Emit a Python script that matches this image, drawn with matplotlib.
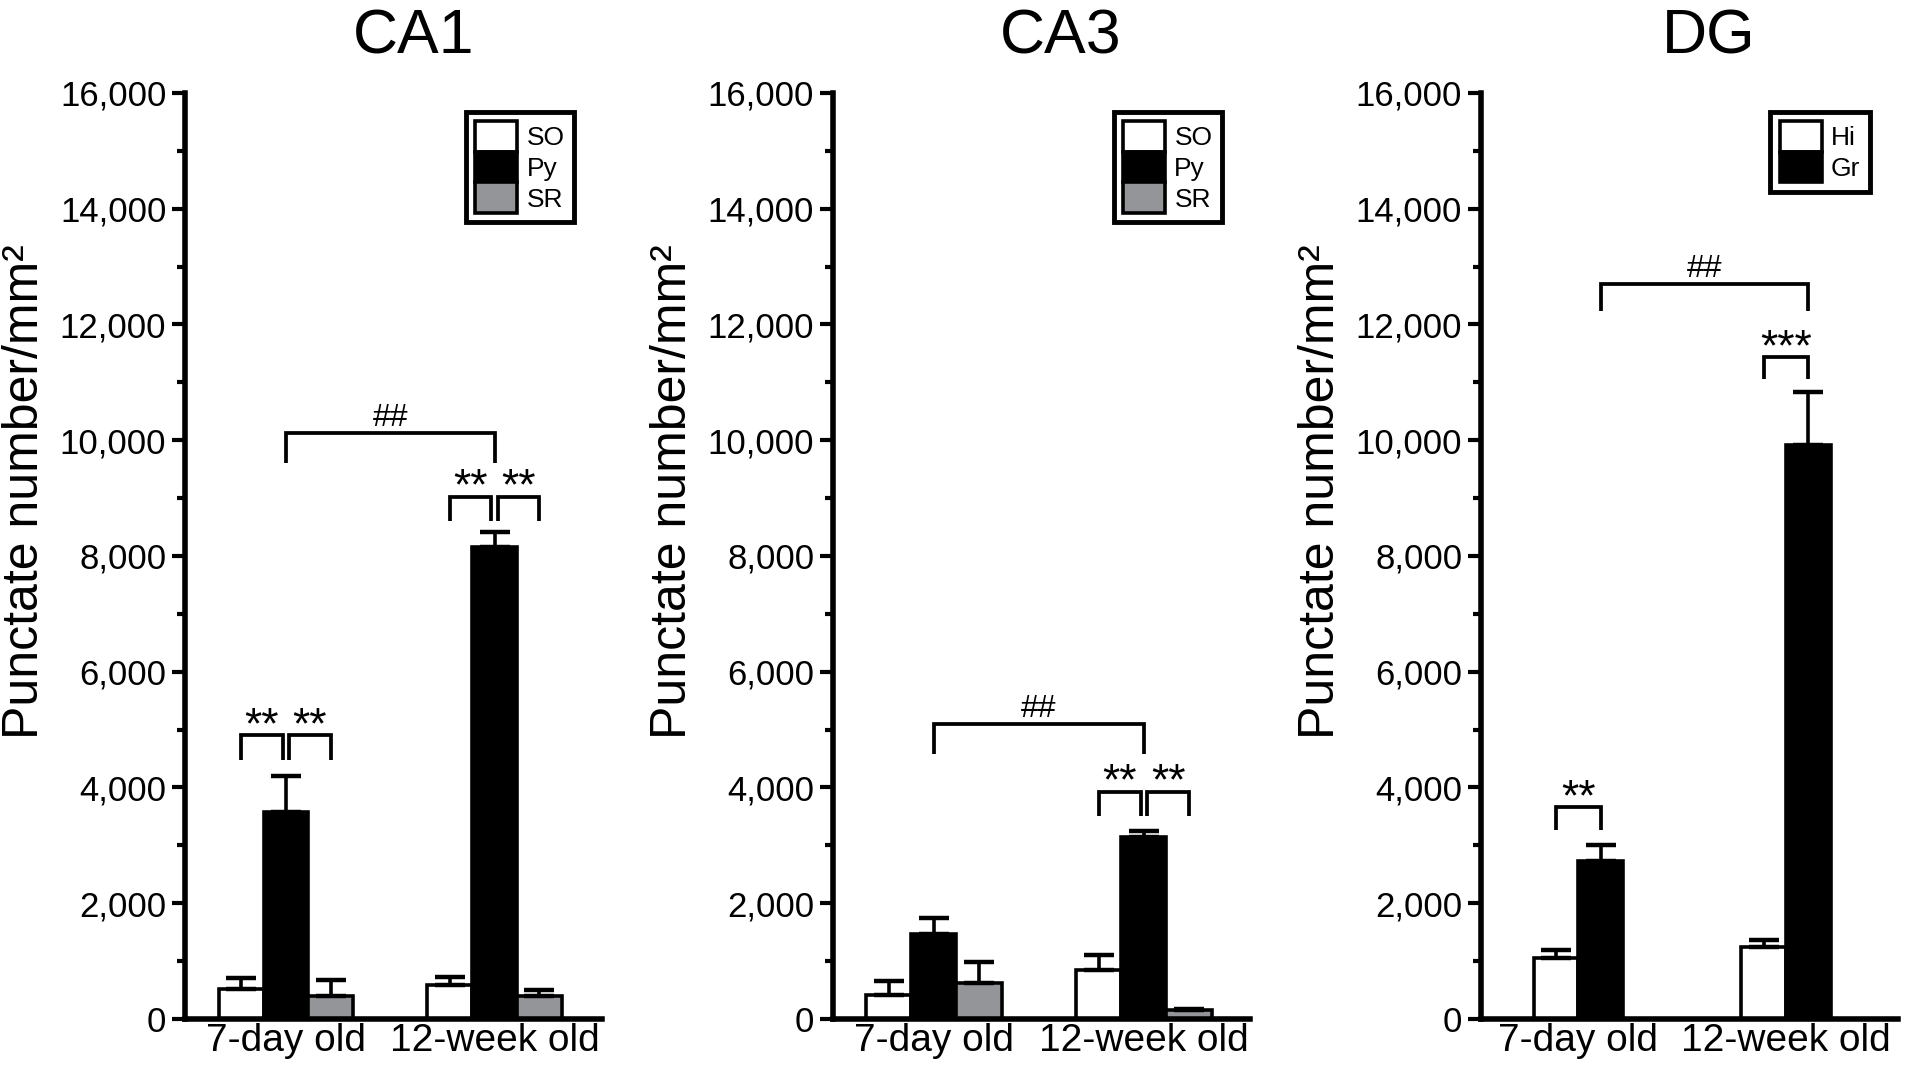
import numpy as np
import matplotlib.pyplot as plt
from matplotlib.patches import Patch
from matplotlib.ticker import MultipleLocator, StrMethodFormatter

plt.rcParams['font.family'] = 'Liberation Sans'

groups = ['7-day old', '12-week old']

# CA1
ca1_layers = ['SO', 'Py', 'SR']
ca1_means = [[510, 590], [3580, 8150], [400, 400]]
ca1_errs = [[200, 130], [620, 260], [270, 100]]

# CA3
ca3_layers = ['SO', 'Py', 'SR']
ca3_means = [[410, 850], [1460, 3140], [620, 150]]
ca3_errs = [[250, 250], [280, 100], [370, 30]]

# DG
dg_layers = ['Hi', 'Gr']
dg_means = [[1060, 1240], [2730, 9910]]
dg_errs = [[130, 120], [270, 920]]

# significance brackets: (group, layer), (group, layer), leg bottom, top, label
ca1_sig = [((0, 0), (0, 1), 4480, 4900, '**'), ((0, 1), (0, 2), 4480, 4900, '**'),
           ((1, 0), (1, 1), 8600, 9020, '**'), ((1, 1), (1, 2), 8600, 9020, '**'),
           ((0, 1), (1, 1), 9610, 10120, '##')]
ca3_sig = [((1, 0), (1, 1), 3510, 3930, '**'), ((1, 1), (1, 2), 3510, 3930, '**'),
           ((0, 1), (1, 1), 4585, 5090, '##')]
dg_sig = [((0, 0), (0, 1), 3270, 3660, '**'), ((1, 0), (1, 1), 11050, 11430, '***'),
          ((0, 1), (1, 1), 12230, 12700, '##')]

colors = {'SO': 'white', 'Py': 'black', 'SR': '#939598', 'Hi': 'white', 'Gr': 'black'}

W = 0.215


def bar_x(n, g, s):
    return g + (s - (n - 1) / 2) * W


def panel(ax, title, layers, means, errs, sig, xlim):
    n = len(layers)
    x = np.arange(len(groups))
    for s, lay in enumerate(layers):
        xs = x + (s - (n - 1) / 2) * W
        ax.bar(xs, means[s], W, color=colors[lay], edgecolor='black', linewidth=2.6, zorder=2)
        ax.errorbar(xs, means[s], yerr=[np.zeros(len(groups)), errs[s]], fmt='none',
                    ecolor='black', elinewidth=2.6, capsize=10.8, capthick=3.2, zorder=3)

    for (g1, s1), (g2, s2), yb, yt, lab in sig:
        x1 = bar_x(n, g1, s1)
        x2 = bar_x(n, g2, s2)
        if g1 == g2 and n == 3:
            if s1 == 1:
                x1 += 0.015
            if s2 == 1:
                x2 -= 0.015
        ax.plot([x1, x1, x2, x2], [yb, yt, yt, yb], color='black', lw=2.7,
                solid_joinstyle='miter', solid_capstyle='butt', zorder=4)
        if '*' in lab:
            ax.annotate(lab, xy=((x1 + x2) / 2, yt), xytext=(0, -2), textcoords='offset points',
                        ha='center', va='baseline', fontsize=32)
        else:
            ax.annotate(lab, xy=((x1 + x2) / 2, yt), xytext=(0, 5), textcoords='offset points',
                        ha='center', va='baseline', fontsize=23)

    ax.set_xlim(*xlim)
    ax.set_ylim(0, 16000)
    ax.set_xticks(x)
    ax.set_xticklabels(groups)
    ax.yaxis.set_major_locator(MultipleLocator(2000))
    ax.yaxis.set_minor_locator(MultipleLocator(1000))
    ax.yaxis.set_major_formatter(StrMethodFormatter('{x:,.0f}'))
    ax.tick_params(axis='y', which='major', length=9.5, width=3, labelsize=25, pad=4)
    ax.tick_params(axis='y', which='minor', length=6, width=3)
    ax.tick_params(axis='x', length=0, labelsize=28, pad=3)
    for side in ['top', 'right']:
        ax.spines[side].set_visible(False)
    for side in ['left', 'bottom']:
        ax.spines[side].set_linewidth(4)
        ax.spines[side].set_capstyle('projecting')

    ax.text(0.547, 1.0425, title, transform=ax.transAxes, ha='center', va='baseline', fontsize=45)
    ax.text(-0.384, 0.57, 'Punctate number/mm²', transform=ax.transAxes, rotation=90,
            ha='center', va='center', fontsize=36)

    handles = [Patch(facecolor=colors[l], edgecolor='black', linewidth=2.6) for l in layers]
    leg = ax.legend(handles, layers, loc='upper right', bbox_to_anchor=(0.932, 0.98),
                    borderaxespad=0, fontsize=19, handlelength=1.6, handleheight=1.42,
                    labelspacing=0, handletextpad=0.35, borderpad=0.35,
                    fancybox=False, edgecolor='black', framealpha=1)
    leg.get_frame().set_linewidth(3.5)


fig = plt.figure(figsize=(19.06, 10.75), dpi=100)
ax1 = fig.add_axes([0.0971, 0.0521, 0.2188, 0.8614])
ax2 = fig.add_axes([0.4370, 0.0521, 0.2188, 0.8614])
ax3 = fig.add_axes([0.7770, 0.0521, 0.2188, 0.8614])

panel(ax1, 'CA1', ca1_layers, ca1_means, ca1_errs, ca1_sig, (-0.484, 1.516))
panel(ax2, 'CA3', ca3_layers, ca3_means, ca3_errs, ca3_sig, (-0.48, 1.505))
panel(ax3, 'DG', dg_layers, dg_means, dg_errs, dg_sig, (-0.47, 1.54))

fig.savefig('out.png', dpi=100)
